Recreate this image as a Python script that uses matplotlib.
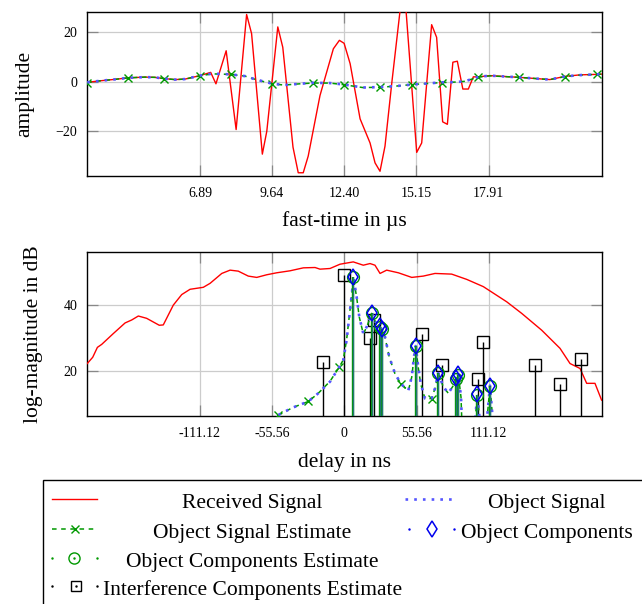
import matplotlib
matplotlib.use("Agg")
import matplotlib.pyplot as plt
from matplotlib.lines import Line2D
from matplotlib.patches import Rectangle

plt.rcParams['font.family'] = ['Liberation Serif', 'DejaVu Serif']
plt.rcParams['mathtext.fontset'] = 'stix'

# ---------------- data: top panel (fast-time in µs) ----------------
obj_t = [2.59, 3.07, 3.65, 4.15, 4.79, 5.17, 5.52, 5.94, 6.32, 6.89, 7.35, 8.06, 8.61, 9.00,
         9.63, 10.10, 10.70, 11.19, 11.85, 12.40, 13.10, 13.76, 14.39, 14.97, 15.54, 16.11,
         16.62, 17.00, 17.51, 17.96, 19.07, 19.60, 20.24, 20.82, 21.39, 22.03, 22.23]
obj_v = [-0.3, 0.3, 0.9, 1.5, 1.8, 1.7, 1.2, 0.8, 1.0, 2.4, 3.2, 2.9, 2.2, 0.9,
         -0.8, -1.4, -0.9, -0.5, -0.6, -1.2, -2.4, -2.2, -1.8, -1.2, -0.8, -0.3,
         -0.2, 0.1, 1.9, 2.4, 1.7, 1.3, 0.8, 2.1, 2.6, 2.9, 3.0]
est_v = [-0.4, 0.3, 0.9, 1.5, 1.8, 1.7, 1.2, 0.8, 1.0, 2.3, 3.1, 2.9, 2.2, 0.9,
         -0.9, -1.4, -0.9, -0.6, -0.6, -1.3, -2.4, -2.3, -1.8, -1.2, -0.8, -0.4,
         -0.2, 0.1, 1.8, 2.3, 1.7, 1.3, 0.8, 2.0, 2.6, 2.9, 3.0]
est_marks = [0, 3, 6, 9, 11, 14, 17, 19, 21, 23, 25, 28, 30, 33, 35]

rx_t = [2.59, 3.07, 3.65, 4.15, 4.79, 5.17, 5.52, 5.94, 6.32, 6.89, 7.30, 7.50, 7.89, 8.27,
        8.67, 8.86, 9.27, 9.44, 9.86, 10.05, 10.44, 10.64, 10.83, 11.02, 11.47, 11.98, 12.21,
        12.39, 12.62, 13.00, 13.38, 13.57, 13.76, 13.95, 14.21, 14.53, 14.75, 15.16, 15.35,
        15.73, 15.92, 16.15, 16.33, 16.54, 16.71, 16.92, 17.13, 17.32, 17.51, 17.96, 19.07,
        19.60, 20.24, 20.82, 21.39, 22.03, 22.23]
rx_v = [-0.3, 0.3, 0.9, 1.5, 1.8, 1.7, 1.2, 0.8, 1.0, 2.4, 3.7, -0.9, 12.4, -19.3,
        27.0, 19.3, -29.2, -20.0, 22.0, 13.8, -26.4, -36.7, -36.7, -30.0, -5.6, 13.2, 16.6,
        15.4, 7.2, -15.0, -24.7, -32.7, -36.1, -26.0, -0.5, 29.0, 29.0, -28.5, -24.7,
        22.9, 17.8, -16.2, -17.2, 7.8, 8.2, -3.0, -3.0, 1.9, 1.9, 2.4, 1.7,
        1.3, 0.8, 2.1, 2.7, 2.9, 3.0]

top_xticks = [6.89, 9.64, 12.40, 15.15, 17.91]
top_xticklabels = ['6.89', '9.64', '12.40', '15.15', '17.91']
top_yticks = [-20, 0, 20]
top_xlim = (2.58, 22.23)
top_ylim = (-38, 28)

# ---------------- data: bottom panel (delay in ns) ----------------
rs_d = [-197.8, -193.6, -190.0, -186.7, -177.7, -168.7, -163.6, -158.5, -152.1, -142.4,
        -139.3, -131.6, -125.1, -118.7, -108.5, -103.3, -94.3, -87.9, -81.6, -73.9,
        -67.4, -59.7, -52.0, -41.8, -31.5, -22.5, -18.7, -11.0, -3.3, 6.9,
        14.6, 19.8, 23.6, 27.5, 32.6, 41.6, 51.9, 60.8, 69.8, 82.6,
        94.2, 107.0, 125.0, 136.5, 151.9, 166.0, 173.7, 181.4, 186.5, 192.9, 198.0]
rs_v = [22.2, 24.1, 27.1, 28.0, 31.3, 34.5, 35.4, 36.6, 35.9, 33.8,
        33.9, 39.9, 43.1, 44.7, 45.3, 46.5, 49.5, 50.5, 50.2, 48.7,
        48.3, 49.1, 49.7, 50.3, 51.2, 51.3, 50.8, 51.0, 52.3, 53.0,
        52.0, 52.5, 52.0, 49.5, 50.5, 49.7, 48.3, 48.7, 49.5, 49.3,
        47.7, 45.5, 40.9, 37.4, 32.3, 26.8, 22.2, 20.7, 16.2, 16.2, 11.1]

os_d = [-50.8, -40.0, -27.7, -20.0, -11.0, -3.8, -0.8, 1.8, 4.4, 6.4, 6.9, 9.5, 11.5, 14.6,
        17.2, 21.1, 24.0, 28.2, 31.3, 34.6, 39.0, 43.6, 49.3, 51.9, 53.6, 54.9, 56.9, 58.8,
        62.1, 67.2, 69.8, 72.3, 76.2, 80.0, 83.4, 86.0, 87.7, 89.8, 90.5, 100.5, 102.3,
        104.5, 109.5, 112.1, 114.5]
os_v = [6.6, 8.8, 10.7, 13.2, 16.7, 21.2, 23.2, 29.3, 38.4, 45.5, 48.5, 42.4, 36.4, 31.3,
        33.3, 37.6, 34.8, 33.0, 30.3, 24.2, 19.2, 16.0, 14.1, 18.2, 24.2, 27.5, 21.2, 16.2,
        11.6, 11.6, 14.7, 19.3, 15.2, 13.2, 15.2, 17.7, 19.0, 12.1, 4.0, 4.0, 12.9,
        4.0, 4.0, 15.5, 4.0]
oe_v = [6.5, 8.8, 10.7, 13.2, 16.8, 21.2, 23.3, 29.5, 38.5, 45.6, 48.3, 42.3, 36.3, 31.2,
        33.2, 37.4, 34.8, 33.0, 30.2, 24.1, 19.1, 16.0, 14.0, 18.1, 24.0, 27.3, 21.0, 16.0,
        11.5, 11.6, 14.7, 19.2, 15.1, 13.2, 15.2, 17.6, 18.9, 12.0, 4.0, 4.0, 12.7,
        4.0, 4.0, 15.3, 4.0]
oe_marks = [0, 2, 5, 21, 29]

int_d = [-16.2, 0.0, 19.8, 23.0, 59.5, 75.4, 103.1, 107.0, 146.7, 166.0, 182.1]
int_v = [22.7, 49.0, 29.8, 35.4, 31.1, 21.9, 17.4, 28.8, 21.7, 16.0, 23.5]

oc_d = [6.9, 21.1, 27.4, 29.2, 54.9, 72.3, 86.0, 87.7, 102.3, 112.1]
oc_v = [48.5, 37.6, 33.5, 32.8, 27.5, 19.4, 17.7, 19.0, 12.9, 15.5]
oce_d = [6.9, 21.1, 27.4, 29.2, 54.9, 72.3, 86.0, 87.7, 102.3, 112.1]
oce_v = [48.4, 37.5, 33.3, 32.6, 27.4, 19.3, 17.5, 18.8, 12.8, 15.4]

bot_xticks = [-111.12, -55.56, 0, 55.56, 111.12]
bot_xticklabels = ['-111.12', '-55.56', '0', '55.56', '111.12']
bot_yticks = [20, 40]
bot_xlim = (-198, 198.3)
bot_ylim = (6.3, 56)

# ---------------- styles ----------------
RED = '#ff0000'
BLUE = '#5555ff'
GREEN = '#009900'
DBLUE = '#0000ee'
W, H = 642, 604
TICK_FS = 10
LABEL_FS = 15.5
DOT = dict(lw=1.9, ls=(0, (1, 2.3)), dash_capstyle='butt')

fig = plt.figure(figsize=(W / 100, H / 100), dpi=100)


def style_axes(ax):
    ax.set_axisbelow(True)
    ax.grid(True, color='#cccccc', lw=0.9)
    ax.tick_params(direction='in', top=True, right=True, length=8, width=0.9,
                   color='#888888', labelsize=TICK_FS)
    ax.tick_params(axis='x', pad=8)
    ax.tick_params(axis='y', pad=7)
    for s in ax.spines.values():
        s.set_linewidth(1.0)
        s.set_color('black')


# top axes
ax1 = fig.add_axes([87 / W, 1 - 176 / H, (602 - 87) / W, (176 - 12) / H])
style_axes(ax1)
ax1.plot(rx_t, rx_v, color=RED, lw=1.0, zorder=3)
ax1.plot(obj_t, est_v, color=GREEN, lw=1.1, ls=(0, (3, 3)), marker='x', ms=6,
         mew=1.0, markevery=est_marks, zorder=4)
ax1.plot(obj_t, obj_v, color=BLUE, zorder=5, **DOT)
ax1.set_xlim(*top_xlim)
ax1.set_ylim(*top_ylim)
ax1.set_xticks(top_xticks)
ax1.set_xticklabels(top_xticklabels)
ax1.set_yticks(top_yticks)
ax1.set_xlabel('fast-time in µs', fontsize=LABEL_FS, labelpad=8)
ax1.set_ylabel('amplitude', fontsize=LABEL_FS, labelpad=15)

# bottom axes
ax2 = fig.add_axes([87 / W, 1 - 416 / H, (602 - 87) / W, (416 - 252) / H])
style_axes(ax2)
yb = bot_ylim[0]
ax2.plot(rs_d, rs_v, color=RED, lw=1.0, zorder=3)
ax2.vlines(int_d, yb, int_v, color='black', lw=1.0, zorder=4)
ax2.plot(int_d, int_v, ls='none', marker='s', ms=8, mfc='none', mec='black', mew=1.0, zorder=4)
ax2.plot(os_d, oe_v, color=GREEN, lw=1.1, ls=(0, (3, 3)), marker='x', ms=6,
         mew=1.0, markevery=oe_marks, zorder=5)
ax2.plot(os_d, os_v, color=BLUE, zorder=6, **DOT)
ax2.vlines(oce_d, yb, oce_v, color=GREEN, lw=1.7, zorder=7)
ax2.vlines(oc_d, yb, oc_v, color='#3366aa', lw=1.0, alpha=0.7, zorder=8)
ax2.plot(oce_d, oce_v, ls='none', marker='o', ms=8.5, mfc='none', mec=GREEN, mew=1.0, zorder=9)
ax2.plot(oc_d, oc_v, ls='none', marker='d', ms=8, mfc='none', mec=DBLUE, mew=1.1, zorder=10)
ax2.set_xlim(*bot_xlim)
ax2.set_ylim(*bot_ylim)
ax2.set_xticks(bot_xticks)
ax2.set_xticklabels(bot_xticklabels)
ax2.set_yticks(bot_yticks)
ax2.set_xlabel('delay in ns', fontsize=LABEL_FS, labelpad=9)
ax2.set_ylabel('log-magnitude in dB', fontsize=LABEL_FS, labelpad=15)

# ---------------- legend (drawn by hand, 2 columns, centred text) ----------------
def fx(x):
    return x / W


def fy(y):
    return 1 - y / H


fig.add_artist(Rectangle((fx(42.7), fy(700)), fx(800) - fx(42.7), fy(480) - fy(700),
                         transform=fig.transFigure, fill=False, ec='black', lw=1.0,
                         clip_on=False))

rows = [499, 529, 558, 585.5]
c1a, c1b, c1m = 52, 97, 74.5
c2a, c2b, c2m = 405, 454, 430
t1, t2 = 252.5, 547


def hline(x0, x1, y, **kw):
    fig.add_artist(Line2D([fx(x0), fx(x1)], [fy(y), fy(y)], transform=fig.transFigure, **kw))


def mark(x, y, **kw):
    fig.add_artist(Line2D([fx(x)], [fy(y)], transform=fig.transFigure, ls='none', **kw))


def ltext(x, y, s):
    fig.text(fx(x), fy(y + 9), s, ha='center', va='baseline', fontsize=LABEL_FS)


# row 1
hline(c1a, c1b, rows[0], color=RED, lw=1.0)
ltext(t1, rows[0], 'Received Signal')
hline(c2a, c2b, rows[0], color=BLUE, **DOT)
ltext(t2, rows[0], 'Object Signal')
# row 2
hline(c1a, c1b, rows[1], color=GREEN, lw=1.1, ls=(0, (3, 3)))
mark(c1m, rows[1], marker='x', ms=6, mew=1.0, color=GREEN)
ltext(t1, rows[1], 'Object Signal Estimate')
mark(c2a + 4, rows[1], marker='.', ms=1.5, color=DBLUE)
mark(c2b, rows[1], marker='.', ms=1.5, color=DBLUE)
mark(c2m + 2, rows[1], marker='d', ms=8, mfc='none', mec=DBLUE, mew=1.1)
ltext(t2, rows[1], 'Object Components')
# row 3
mark(c1a, rows[2], marker='.', ms=1.5, color=GREEN)
mark(c1b, rows[2], marker='.', ms=1.5, color=GREEN)
mark(c1m - 1, rows[2], marker='o', ms=8, mfc='none', mec=GREEN, mew=1.0)
mark(c1m - 1, rows[2], marker='.', ms=1.5, color=GREEN)
ltext(t1, rows[2], 'Object Components Estimate')
# row 4
mark(c1a, rows[3], marker='.', ms=1.5, color='black')
mark(c1b, rows[3], marker='.', ms=1.5, color='black')
mark(c1m + 1.5, rows[3], marker='s', ms=7, mfc='none', mec='black', mew=1.0)
mark(c1m + 1.5, rows[3], marker='.', ms=1.5, color='black')
ltext(t1, rows[3], 'Interference Components Estimate')

fig.savefig('out.png', dpi=100)
